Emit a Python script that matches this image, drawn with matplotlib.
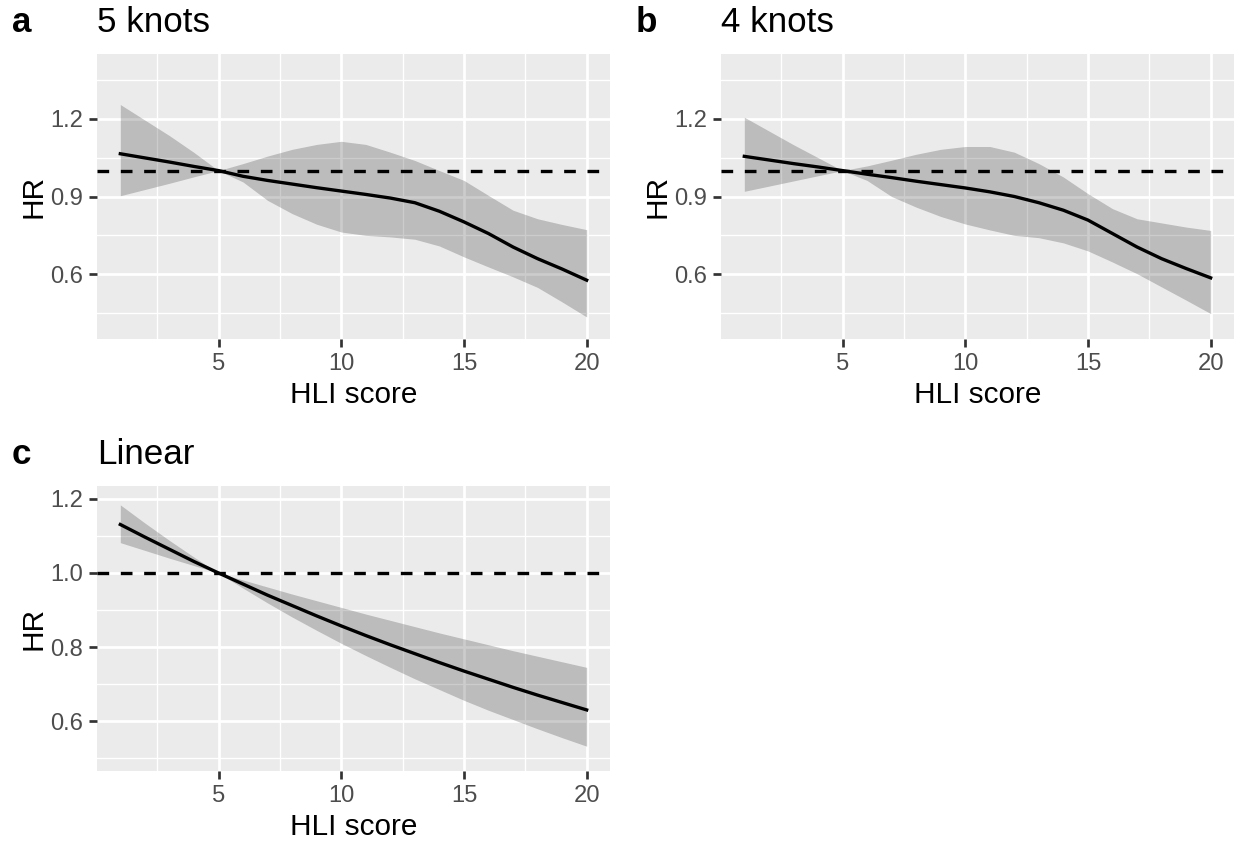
import matplotlib.pyplot as plt
import numpy as np

plt.rcParams["font.family"] = ["Liberation Sans", "DejaVu Sans"]

hli_score = np.arange(1, 21)

hr_5_knots = [1.065, 1.049, 1.033, 1.016, 1.000, 0.978, 0.962, 0.948, 0.934, 0.921,
              0.908, 0.894, 0.876, 0.843, 0.802, 0.757, 0.705, 0.660, 0.620, 0.577]
upper_5_knots = [1.255, 1.195, 1.135, 1.070, 1.000, 1.027, 1.056, 1.082, 1.101, 1.113,
                 1.101, 1.071, 1.039, 1.000, 0.962, 0.904, 0.847, 0.814, 0.792, 0.772]
lower_5_knots = [0.903, 0.927, 0.951, 0.976, 1.000, 0.956, 0.885, 0.834, 0.793, 0.763,
                 0.750, 0.744, 0.735, 0.709, 0.667, 0.628, 0.590, 0.549, 0.493, 0.435]

hr_4_knots = [1.055, 1.041, 1.027, 1.014, 1.000, 0.986, 0.973, 0.959, 0.946, 0.933,
              0.918, 0.900, 0.876, 0.847, 0.809, 0.757, 0.705, 0.660, 0.622, 0.586]
upper_4_knots = [1.206, 1.153, 1.100, 1.050, 1.000, 1.018, 1.040, 1.063, 1.082, 1.093,
                 1.093, 1.071, 1.027, 0.975, 0.911, 0.853, 0.814, 0.798, 0.782, 0.769]
lower_4_knots = [0.920, 0.940, 0.960, 0.980, 1.000, 0.962, 0.900, 0.859, 0.823, 0.794,
                 0.771, 0.750, 0.741, 0.721, 0.690, 0.647, 0.602, 0.551, 0.500, 0.448]

hr_linear = [1.131, 1.097, 1.064, 1.031, 1.000, 0.970, 0.940, 0.912, 0.884, 0.857,
             0.831, 0.806, 0.782, 0.758, 0.735, 0.713, 0.691, 0.670, 0.650, 0.630]
upper_linear = [1.184, 1.135, 1.088, 1.043, 1.000, 0.981, 0.962, 0.943, 0.925, 0.907,
                0.889, 0.872, 0.855, 0.838, 0.822, 0.806, 0.790, 0.775, 0.760, 0.745]
lower_linear = [1.082, 1.061, 1.040, 1.020, 1.000, 0.959, 0.919, 0.881, 0.845, 0.810,
                0.777, 0.745, 0.714, 0.685, 0.656, 0.629, 0.604, 0.579, 0.555, 0.532]

x_major = [5, 10, 15, 20]
x_minor = [2.5, 7.5, 12.5, 17.5]

W, H = 1238, 842
LINE_W = 1.6
GRID_W = 1.3


def draw_panel(fig, rect, tag, title, hr, lower, upper, y_major, y_minor, y_lim):
    ax = fig.add_axes(rect)
    ax.set_facecolor("#EBEBEB")
    for spine in ax.spines.values():
        spine.set_visible(False)

    ax.fill_between(hli_score, lower, upper, color="black", alpha=0.2, linewidth=0, zorder=2)
    ax.plot(hli_score, hr, color="black", linewidth=LINE_W, zorder=3)
    ax.axhline(1.0, color="black", linewidth=LINE_W, linestyle=(0, (3.5, 3.5)), zorder=3)

    ax.set_xlim(0.05, 20.95)
    ax.set_ylim(*y_lim)
    ax.set_xticks(x_major)
    ax.set_xticks(x_minor, minor=True)
    ax.set_yticks(y_major)
    ax.set_yticks(y_minor, minor=True)
    ax.set_yticklabels([f"{v:.1f}" for v in y_major])

    ax.grid(which="major", color="white", linewidth=GRID_W, zorder=0)
    ax.grid(which="minor", color="white", linewidth=GRID_W / 2, zorder=0)
    ax.set_axisbelow(True)

    ax.tick_params(which="major", length=4.0, width=GRID_W, color="#333333",
                   labelcolor="#4D4D4D", labelsize=11.4, pad=2.6)
    ax.tick_params(which="minor", length=0)

    ax.set_xlabel("HLI score", fontsize=14.3, labelpad=3)
    ax.set_ylabel("HR", fontsize=14.3, labelpad=1.5)
    ax.set_title(title, loc="left", fontsize=16.8, pad=10.5)

    top = rect[1] + rect[3]
    fig.text(rect[0] - 85 / W, top + 22 / H, tag, fontsize=16.8, fontweight="bold",
             va="baseline", ha="left")
    return ax


fig = plt.figure(figsize=(W / 150, H / 150), dpi=150)

panel_w = 513 / W
panel_h = 285 / H

draw_panel(fig, [97 / W, 1 - 339 / H, panel_w, panel_h], "a", "5 knots",
           hr_5_knots, lower_5_knots, upper_5_knots,
           [0.6, 0.9, 1.2], [0.45, 0.75, 1.05, 1.35], (0.35, 1.45))
draw_panel(fig, [721 / W, 1 - 339 / H, panel_w, panel_h], "b", "4 knots",
           hr_4_knots, lower_4_knots, upper_4_knots,
           [0.6, 0.9, 1.2], [0.45, 0.75, 1.05, 1.35], (0.35, 1.45))
draw_panel(fig, [97 / W, 1 - 771 / H, panel_w, panel_h], "c", "Linear",
           hr_linear, lower_linear, upper_linear,
           [0.6, 0.8, 1.0, 1.2], [0.5, 0.7, 0.9, 1.1], (0.465, 1.235))

fig.savefig("out.png", dpi=150)
